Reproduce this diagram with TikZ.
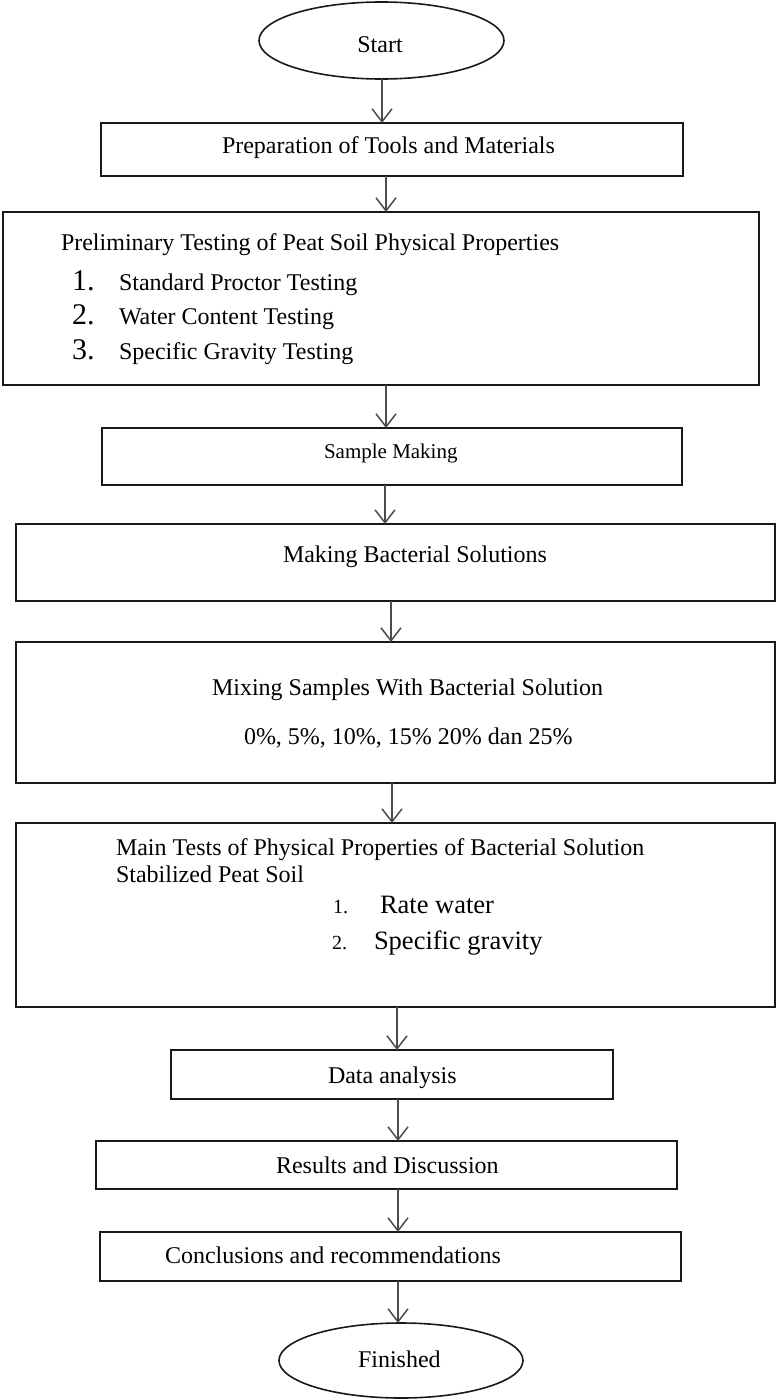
\documentclass[tikz,border=0pt]{standalone}
\usepackage{fontspec}
\setmainfont{Liberation Serif}
\usetikzlibrary{arrows.meta,shapes.geometric}
\newcommand{\fsA}{\fontsize{24}{28}\selectfont}
\newcommand{\fsB}{\fontsize{21}{25}\selectfont}
\newcommand{\fsNum}{\fontsize{30}{34}\selectfont}
\newcommand{\fsSmallNum}{\fontsize{20}{24}\selectfont}
\newcommand{\fsItem}{\fontsize{26.5}{30}\selectfont}
\begin{document}
\begin{tikzpicture}[x=1pt,y=-1pt,
  box/.style={draw=black!90,line width=1.8pt,rectangle,inner sep=0pt,outer sep=0pt},
  oval/.style={draw=black!90,line width=1.6pt,ellipse,inner sep=0pt,outer sep=0pt},
  txt/.style={inner sep=0pt,outer sep=0pt,anchor=base west,font=\fsA},
  arr/.style={draw=black!70,line width=1.5pt,-{Straight Barb[length=13pt,width=20pt]}}]
\useasboundingbox (0,0) rectangle (776,1400);
% shapes
\node[oval,minimum width=245pt,minimum height=77pt] (start) at (381.5,40.5) {};
\node[box,minimum width=582pt,minimum height=53pt] (prep) at (392,149.5) {};
\node[box,minimum width=756pt,minimum height=173pt] (prelim) at (381,298.5) {};
\node[box,minimum width=580pt,minimum height=57pt] (sample) at (392,456.5) {};
\node[box,minimum width=759pt,minimum height=77pt] (bact) at (395.5,562.5) {};
\node[box,minimum width=759pt,minimum height=141pt] (mix) at (395.5,712.5) {};
\node[box,minimum width=759pt,minimum height=184pt] (main) at (395.5,915) {};
\node[box,minimum width=442pt,minimum height=49pt] (data) at (392,1074.5) {};
\node[box,minimum width=581pt,minimum height=48pt] (results) at (386.5,1165) {};
\node[box,minimum width=581pt,minimum height=49pt] (concl) at (390.5,1256.5) {};
\node[oval,minimum width=244pt,minimum height=75pt] (finish) at (401,1360.5) {};
% texts
\node[txt,anchor=base] (tstart) at (380,52) {Start};
\node[txt] (tprep) at (222,153) {Preparation of Tools and Materials};
\node[txt] (tprelim) at (61,250) {Preliminary Testing of Peat Soil Physical Properties};
\node[txt,font=\fsNum] (n1) at (72,290) {1.};
\node[txt] (i1) at (119,290) {Standard Proctor Testing};
\node[txt,font=\fsNum] (n2) at (72,324) {2.};
\node[txt] (i2) at (119,324) {Water Content Testing};
\node[txt,font=\fsNum] (n3) at (72,359) {3.};
\node[txt] (i3) at (119,359) {Specific Gravity Testing};
\node[txt,font=\fsB] (tsample) at (324,458) {Sample Making};
\node[txt] (tbact) at (283,562) {Making Bacterial Solutions};
\node[txt] (tmix) at (212,695) {Mixing Samples With Bacterial Solution};
\node[txt] (tpct) at (244,744) {0\%, 5\%, 10\%, 15\% 20\% dan 25\%};
\node[txt] (tmain1) at (116,855) {Main Tests of Physical Properties of Bacterial Solution};
\node[txt] (tmain2) at (116,882) {Stabilized Peat Soil};
\node[txt,font=\fsSmallNum] (m1) at (333,913) {1.};
\node[txt,font=\fsItem] (j1) at (380,913) {Rate water};
\node[txt,font=\fsSmallNum] (m2) at (332,949) {2.};
\node[txt,font=\fsItem] (j2) at (374,949) {Specific gravity};
\node[txt] (tdata) at (328,1083) {Data analysis};
\node[txt] (tres) at (276,1173) {Results and Discussion};
\node[txt] (tconcl) at (165,1263) {Conclusions and recommendations};
\node[txt] (tfin) at (358,1367) {Finished};
% connectors
\draw[arr] ([xshift=0.5pt]start.south) -- ([xshift=0.5pt]start.south |- prep.north);
\draw[arr] ([xshift=-6pt]prep.south) -- ([xshift=-6pt]prep.south |- prelim.north);
\draw[arr] ([xshift=5pt]prelim.south) -- ([xshift=5pt]prelim.south |- sample.north);
\draw[arr] ([xshift=-7pt]sample.south) -- ([xshift=-7pt]sample.south |- bact.north);
\draw[arr] ([xshift=-4.5pt]bact.south) -- ([xshift=-4.5pt]bact.south |- mix.north);
\draw[arr] ([xshift=-3.5pt]mix.south) -- ([xshift=-3.5pt]mix.south |- main.north);
\draw[arr] ([xshift=1.5pt]main.south) -- ([xshift=1.5pt]main.south |- data.north);
\draw[arr] ([xshift=6pt]data.south) -- ([xshift=6pt]data.south |- results.north);
\draw[arr] ([xshift=11.5pt]results.south) -- ([xshift=11.5pt]results.south |- concl.north);
\draw[arr] ([xshift=7.5pt]concl.south) -- ([xshift=7.5pt]concl.south |- finish.north);
\end{tikzpicture}
\end{document}
